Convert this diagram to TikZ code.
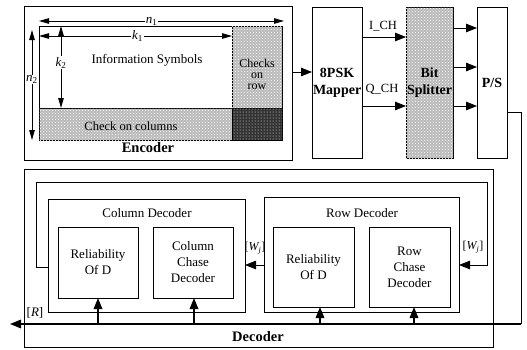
\documentclass[tikz,border=0pt]{standalone}
\usepackage{fontspec}
\setmainfont{Liberation Serif}
\usetikzlibrary{arrows.meta,patterns}
\begin{document}
\begin{tikzpicture}[x=1pt,y=-1pt, line width=0.8pt,
 box/.style={draw, line width=0.8pt, inner sep=0pt, outer sep=0pt, anchor=north west},
 arr/.style={-{Triangle[length=11pt,width=8.5pt]}},
 dimarr/.style={{Triangle[length=10pt,width=5.5pt]}-{Triangle[length=10pt,width=5.5pt]}, line width=0.8pt},
 shadearea/.style={fill=gray!55, postaction={pattern=crosshatch dots, pattern color=white}},
 lbl/.style={font=\fontsize{13}{15}\selectfont, align=center, inner sep=1pt},
 blbl/.style={font=\fontsize{14}{17}\selectfont\bfseries, align=center, inner sep=1pt},
 thickln/.style={line width=1.6pt}]
\useasboundingbox (0,0) rectangle (527,349);

% ---------------- Encoder ----------------
\node[box, minimum width=268pt, minimum height=154pt] (enc) at (24,6) {};
\node[box, minimum width=193pt, minimum height=82pt] (info) at (39,26) {};
\node[box, shadearea, minimum width=193pt, minimum height=32pt] (colchk) at (39,108) {};
\node[box, shadearea, minimum width=50pt, minimum height=82pt] (rowchk) at (232,26) {};
\node[box, fill=black!80, postaction={pattern=dots, pattern color=white}, minimum width=50pt, minimum height=32pt] (corner) at (232,108) {};

\node[lbl] (infotxt) at (147,60) {Information Symbols};
\node[lbl, font=\fontsize{12.5}{14}\selectfont] (colchktxt) at (131,126) {Check on columns};
\node[lbl, font=\fontsize{12}{11}\selectfont] (rowchktxt) at (257,74) {Checks\\on\\row};

\coordinate (n1a) at (39,21);
\coordinate (n1b) at (284,21);
\draw[dimarr] (n1a) -- node[pos=0.46, fill=white, lbl] (n1l) {{\itshape n}\textsubscript{1}} (n1b);
\coordinate (k1a) at (39,36);
\coordinate (k1b) at (232,36);
\draw[dimarr] (k1a) -- node[pos=0.51, fill=white, lbl] (k1l) {{\itshape k}\textsubscript{1}} (k1b);
\coordinate (k2a) at (61,26);
\coordinate (k2b) at (61,108);
\draw[dimarr] (k2a) -- node[pos=0.45, fill=white, lbl] (k2l) {{\itshape k}\textsubscript{2}} (k2b);
\coordinate (n2a) at (32,30);
\coordinate (n2b) at (32,140);
\draw[dimarr] (n2a) -- node[pos=0.45, fill=white, lbl, inner sep=0pt] (n2l) {{\itshape n}\textsubscript{2}} (n2b);

\node[blbl, font=\fontsize{14.5}{17}\selectfont\bfseries] (enctxt) at (148,148) {Encoder};

% ---------------- Mapper, splitter, P/S ----------------
\node[box, blbl, minimum width=47pt, minimum height=151pt] (map) at (312,7) {8PSK\\Mapper};
\node[box, shadearea, blbl, minimum width=47pt, minimum height=151pt] (bs) at (406,7) {Bit\\Splitter};
\node[box, blbl, minimum width=30pt, minimum height=151pt] (ps) at (477,7) {P/S};

\draw[arr] (enc.east |- 0,72) -- (map.west |- 0,72);
\draw[arr] (map.east |- 0,37) -- (bs.west |- 0,37);
\draw[arr] (map.east |- 0,106) -- (bs.west |- 0,106);
\node[lbl, font=\fontsize{12.5}{14}\selectfont] (ich) at (383,26) {I\_CH};
\node[lbl, font=\fontsize{12.5}{14}\selectfont] (qch) at (382,89) {Q\_CH};

\draw[arr] (bs.east |- 0,28) -- (ps.west |- 0,28);
\draw[arr] (bs.east |- 0,67) -- (ps.west |- 0,67);
\draw[arr] (bs.east |- 0,106) -- (ps.west |- 0,106);

% ---------------- Decoder ----------------
\node[box, minimum width=469pt, minimum height=178pt] (dec) at (24,169) {};
\node[box, minimum width=197pt, minimum height=113pt] (col) at (48,199) {};
\node[box, minimum width=195pt, minimum height=115pt] (row) at (264,197) {};

\node[box, lbl, font=\fontsize{13}{16}\selectfont, minimum width=80pt, minimum height=71pt] (cr) at (58,227) {Reliability\\Of D};
\node[box, lbl, font=\fontsize{13}{16}\selectfont, minimum width=80pt, minimum height=71pt] (cc) at (153,227) {Column\\Chase\\Decoder};
\node[box, lbl, font=\fontsize{13}{16}\selectfont, minimum width=81pt, minimum height=80pt] (rr) at (273,227) {Reliability\\Of D};
\node[box, lbl, font=\fontsize{13}{16}\selectfont, minimum width=81pt, minimum height=80pt] (rc) at (369,227) {Row\\Chase\\Decoder};

\node[lbl] (coltxt) at (147,213) {Column Decoder};
\node[lbl] (rowtxt) at (362,213) {Row Decoder};

\draw[arr] (col.west |- 0,267) -- (36,267) -- (36,182) -- (487,182) -- (487,265) -- (row.east |- 0,265);
\draw[arr] (row.west |- 0,265) -- (col.east |- 0,265);
\node[lbl, font=\fontsize{12}{14}\selectfont] (w1) at (255,248) {[{\itshape W}\textsubscript{\itshape j}]};
\node[lbl, font=\fontsize{12}{14}\selectfont] (w2) at (473,247) {[{\itshape W}\textsubscript{\itshape j}]};

\coordinate (rt) at (521,324);
\coordinate (rend) at (10,324);
\draw (ps.east |- 0,112) -| (rt);
\draw[arr, thickln] (rt) -- (rend);
\node[lbl] (rlbl) at (35,313) {[{\itshape R}]};

\draw[arr, thickln] (98,324) -- (cr.south -| 98,0);
\draw[arr, thickln] (194,324) -- (cc.south -| 194,0);
\draw[arr, thickln] (320,324) -- (rr.south -| 320,0);
\draw[arr, thickln] (414,324) -- (rc.south -| 414,0);

\node[blbl, font=\fontsize{14.5}{17}\selectfont\bfseries] (dectxt) at (258,337) {Decoder};
\end{tikzpicture}
\end{document}
